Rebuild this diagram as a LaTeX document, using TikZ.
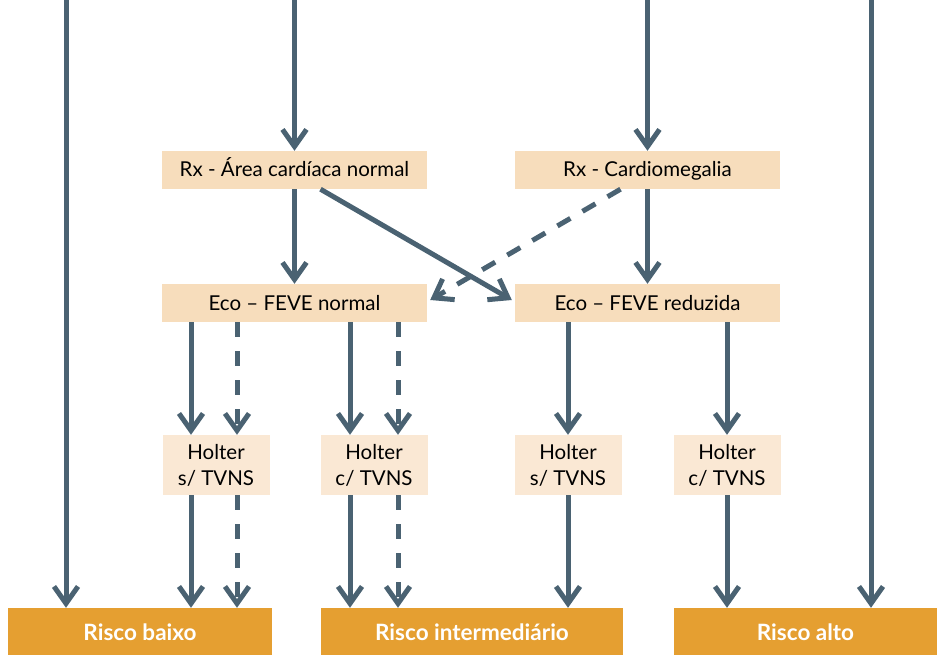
\documentclass[tikz,border=0pt]{standalone}
\usepackage{fontspec}
\setmainfont{Lato}
\usetikzlibrary{arrows.meta}
\definecolor{linecol}{HTML}{4A6272}
\definecolor{stepcol}{HTML}{F7DDBC}
\definecolor{holtcol}{HTML}{FAE8D4}
\definecolor{riskcol}{HTML}{E59F31}

\begin{document}
\begin{tikzpicture}[
      x=1pt,y=-1pt,
      pointer/.style={line width=5pt, -{Straight Barb[length=17pt,width=24pt,line width=5pt]},draw=linecol},
      dpointer/.style={pointer, dash pattern=on 15pt off 14pt},
      every node/.style={rectangle, inner sep=0pt, font=\fontsize{20.5}{26}\selectfont},
      exam/.style={fill=stepcol, minimum width=265pt, minimum height=38pt, text height=17pt, text depth=3pt},
      holter/.style={fill=holtcol, minimum width=107pt, minimum height=60pt, align=center},
      risco/.style={fill=riskcol, minimum height=47pt, text=white, text height=19pt, text depth=2pt, font=\fontsize{22.5}{26}\selectfont\bfseries}
      ]
      \useasboundingbox (0,0) rectangle (937,655);
      % top edge and arrow columns
      \coordinate (top) at (0,0);
      \coordinate (c0) at (66,0);
      \coordinate (c1) at (191,0);
      \coordinate (c2) at (237,0);
      \coordinate (c3) at (350,0);
      \coordinate (c4) at (398,0);
      \coordinate (c5) at (568,0);
      \coordinate (c6) at (727,0);
      \coordinate (c7) at (871,0);
      % boxes
      \node[exam] (rxn) at (294.5,170) {Rx - Área cardíaca normal};
      \node[exam] (rxc) at (647.5,170) {Rx - Cardiomegalia};
      \node[exam] (econ) at (294.5,303) {Eco – FEVE normal};
      \node[exam] (ecor) at (647.5,303) {Eco – FEVE reduzida};
      \node[holter] (hns) at (216,465) {Holter\\s/ TVNS};
      \node[holter] (hnc) at (374,465) {Holter\\c/ TVNS};
      \node[holter] (hrs) at (568,465) {Holter\\s/ TVNS};
      \node[holter] (hrc) at (727,465) {Holter\\c/ TVNS};
      \node[risco, minimum width=264pt] (baixo) at (140,631.5) {Risco baixo};
      \node[risco, minimum width=302pt] (inter) at (472,631.5) {Risco intermediário};
      \node[risco, minimum width=263pt] (alto) at (805.5,631.5) {Risco alto};
      % arrows from the top
      \path (c0) edge [pointer] (baixo.north -| c0);
      \path (c7) edge [pointer] (alto.north -| c7);
      \path (rxn.north |- top) edge [pointer] (rxn.north);
      \path (rxc.north |- top) edge [pointer] (rxc.north);
      % Rx to Eco
      \path (rxn.south) edge [pointer] (econ.north);
      \path (rxc.south) edge [pointer] (ecor.north);
      \path ([xshift=26pt]rxn.south) edge [pointer] ([yshift=3pt,xshift=-3pt]ecor.west);
      \path ([xshift=-27pt]rxc.south) edge [dpointer] ([yshift=3pt,xshift=3pt]econ.east);
      % Eco to Holter
      \path (econ.south -| c1) edge [pointer] (hns.north -| c1);
      \path (econ.south -| c2) edge [dpointer] (hns.north -| c2);
      \path (econ.south -| c3) edge [pointer] (hnc.north -| c3);
      \path (econ.south -| c4) edge [dpointer] (hnc.north -| c4);
      \path (ecor.south -| c5) edge [pointer] (hrs.north -| c5);
      \path (ecor.south -| c6) edge [pointer] (hrc.north -| c6);
      % Holter to Risco
      \path (hns.south -| c1) edge [pointer] (baixo.north -| c1);
      \path (hns.south -| c2) edge [dpointer] (baixo.north -| c2);
      \path (hnc.south -| c3) edge [pointer] (inter.north -| c3);
      \path (hnc.south -| c4) edge [dpointer] (inter.north -| c4);
      \path (hrs.south -| c5) edge [pointer] (inter.north -| c5);
      \path (hrc.south -| c6) edge [pointer] (alto.north -| c6);
    \end{tikzpicture}
\end{document}
